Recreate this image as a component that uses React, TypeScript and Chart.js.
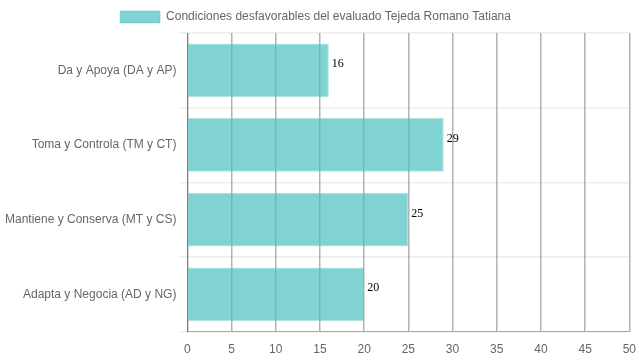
import React, { useEffect, useRef } from "react";
import { Chart, registerables } from "chart.js";

Chart.register(...registerables);

const categories = [
  "Da y Apoya (DA y AP)",
  "Toma y Controla (TM y CT)",
  "Mantiene y Conserva (MT y CS)",
  "Adapta y Negocia (AD y NG)",
];
const values = [16, 29, 25, 20];
const seriesLabel = "Condiciones desfavorables del evaluado Tejeda Romano Tatiana";
const xMin = 0;
const xMax = 50;
const xStep = 5;

const valueLabels = {
  id: "valueLabels",
  afterDatasetsDraw(chart: any) {
    const ctx = chart.ctx;
    ctx.save();
    ctx.font = '12px "Liberation Serif", "Times New Roman", serif';
    ctx.fillStyle = "#000";
    ctx.textAlign = "left";
    ctx.textBaseline = "bottom";
    chart.data.datasets.forEach((ds: any, i: number) => {
      const meta = chart.getDatasetMeta(i);
      meta.data.forEach((el: any, j: number) => {
        ctx.fillText(String(ds.data[j]), el.x + 3, el.y);
      });
    });
    ctx.restore();
  },
};

const legendShift = {
  id: "legendShift",
  afterLayout(chart: any) {
    if (chart.legend) {
      chart.legend.right -= 10;
    }
  },
};

export default function App() {
  const ref = useRef<HTMLCanvasElement | null>(null);
  useEffect(() => {
    if (!ref.current) return;
    Chart.defaults.font.family = '"Liberation Sans", Arial, Helvetica, sans-serif';
    Chart.defaults.font.size = 12;
    Chart.defaults.color = "#666";
    const chart = new Chart(ref.current, {
      type: "bar",
      data: {
        labels: categories,
        datasets: [
          {
            label: seriesLabel,
            data: values,
            backgroundColor: "rgba(75,192,192,0.7)",
            borderColor: "rgba(75,192,192,0.45)",
            borderWidth: 1,
          },
        ],
      },
      options: {
        indexAxis: "y",
        animation: false,
        responsive: true,
        maintainAspectRatio: false,
        layout: { padding: { left: 2, top: 1 } },
        plugins: {
          legend: { display: true, position: "top" },
          tooltip: { enabled: false },
        },
        scales: {
          x: {
            min: xMin,
            max: xMax,
            ticks: { stepSize: xStep, color: "#666" },
            grid: {
              color: "rgba(0,0,0,0.3)",
              lineWidth: 1.5,
              tickColor: "rgba(0,0,0,0)",
              tickLength: 8,
            },
            border: { color: "rgba(0,0,0,0.3)" },
          },
          y: {
            ticks: { color: "#666" },
            grid: {
              color: "rgba(0,0,0,0.07)",
              lineWidth: 1.5,
              tickLength: 8,
            },
            border: { color: "rgba(0,0,0,0.3)" },
          },
        },
      },
      plugins: [valueLabels, legendShift],
    });
    return () => chart.destroy();
  }, []);
  return (
    <div style={{ position: "absolute", left: 0, top: 0, width: 639, height: 360 }}>
      <canvas ref={ref} />
    </div>
  );
}
